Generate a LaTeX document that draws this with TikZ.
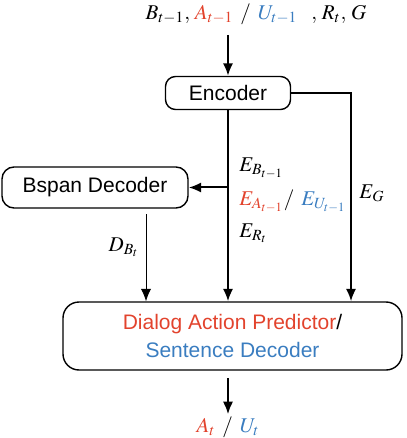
\documentclass[tikz,border=0pt]{standalone}
\usepackage{fontspec}
\usepackage{mathptmx}
\setsansfont{Liberation Sans}
\usetikzlibrary{arrows.meta,calc,positioning}
\definecolor{ink}{HTML}{000000}
\definecolor{actred}{HTML}{E2432D}
\definecolor{uttblue}{HTML}{3A7DC0}
\tikzset{
  block/.style={draw=ink,line width=0.7pt,align=center,inner sep=2pt,font=\sffamily\fontsize{10.5}{14}\selectfont},
  arrow/.style={-{Latex[length=2.2mm,width=1.8mm]},line width=1pt,draw=ink},
  thinarrow/.style={-{Latex[length=2.2mm,width=1.8mm]},line width=0.45pt,draw=ink},
  mlabel/.style={font=\fontsize{10.5}{12}\selectfont,inner sep=1pt}
}

\begin{document}
\begin{tikzpicture}[x=0.5pt,y=-0.5pt]
  \useasboundingbox (0,0) rectangle (406,438);
  % boxes
  \node[block,rounded corners=5pt,minimum width=62.5pt,minimum height=16.5pt] (enc) at (228,93) {Encoder};
  \node[block,rounded corners=6pt,minimum width=93pt,minimum height=20.5pt] (bsp) at (95,187.5) {Bspan Decoder};
  \node[block,rounded corners=8pt,minimum width=169.5pt,minimum height=34pt] (dap) at (232.5,336)
    {\textcolor{actred}{Dialog Action Predictor}/\\\textcolor{uttblue}{Sentence Decoder}};
  % input and output
  \node[mlabel] (inp) at (256,14) {$B_{t-1},\,\textcolor{actred}{A_{t-1}}\ /\ \textcolor{uttblue}{U_{t-1}}\ \ ,\,R_t,\,G$};
  \node[mlabel] (outp) at (228,427) {$\textcolor{actred}{A_t}\ /\ \textcolor{uttblue}{U_t}$};
  % helper points
  \coordinate (egturn) at (351,93);
  \coordinate (dbtop) at (146,214);
  \coordinate (intop) at (228,35);
  \coordinate (outtop) at (228,378);
  % connectors
  \draw[arrow] (intop) -- (enc.north);
  \draw[arrow] (enc.south) -- (enc.south |- dap.north);
  \draw[arrow] (enc.east) -- (egturn) -- (egturn |- dap.north);
  \draw[arrow] (enc.south |- bsp.east) -- (bsp.east);
  \draw[thinarrow] (dbtop) -- (dbtop |- dap.north);
  \draw[arrow] (outtop) -- (outp.north);
  % labels
  \node[mlabel,anchor=west] (eb) at (237,168) {$E_{B_{t-1}}$};
  \node[mlabel,anchor=west] (eau) at (237,201) {$\textcolor{actred}{E_{A_{t-1}}}/\ \textcolor{uttblue}{E_{U_{t-1}}}$};
  \node[mlabel,anchor=west] (er) at (237,233) {$E_{R_t}$};
  \node[mlabel] (eg) at (372,193) {$E_G$};
  \node[mlabel] (db) at (124,247) {$D_{B_t}$};
\end{tikzpicture}
\end{document}
